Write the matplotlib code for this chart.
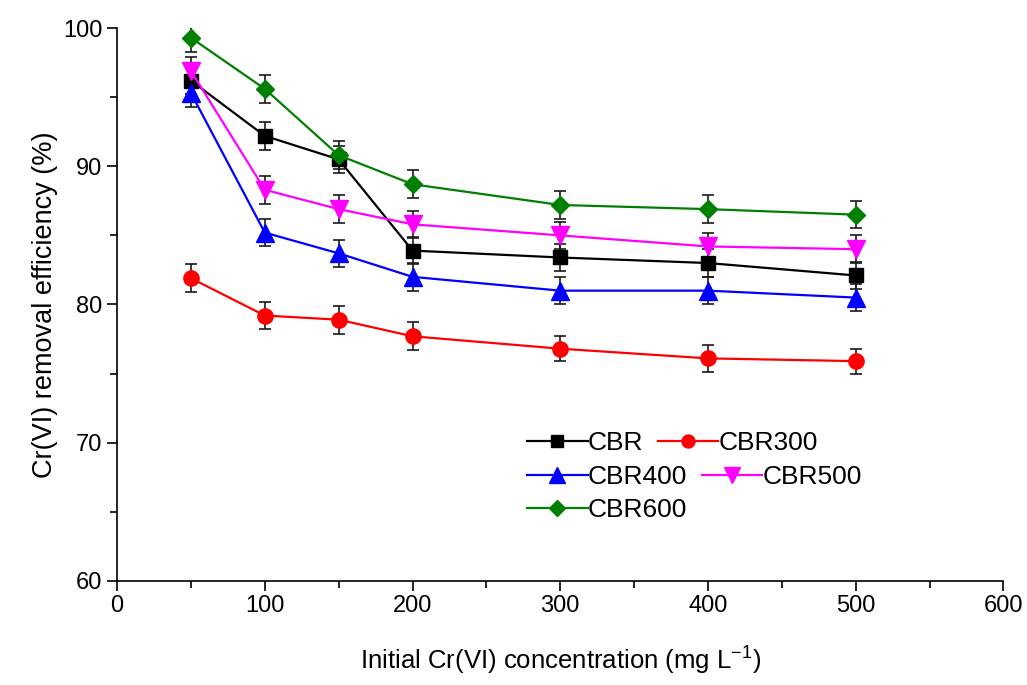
import matplotlib.pyplot as plt
from matplotlib.legend import Legend
import numpy as np

# Data
conc = [50, 100, 150, 200, 300, 400, 500]

cbr = [96.2, 92.2, 90.5, 83.9, 83.4, 83.0, 82.1]
cbr300 = [81.9, 79.2, 78.9, 77.7, 76.8, 76.1, 75.9]
cbr400 = [95.3, 85.2, 83.7, 82.0, 81.0, 81.0, 80.5]
cbr500 = [96.9, 88.3, 86.9, 85.8, 85.0, 84.2, 84.0]
cbr600 = [99.3, 95.6, 90.8, 88.7, 87.2, 86.9, 86.5]

err_cbr = [1.0, 1.0, 1.0, 1.0, 1.0, 1.0, 1.0]
err_cbr300 = [1.0, 1.0, 1.0, 1.0, 0.9, 1.0, 0.9]
err_cbr400 = [1.0, 1.0, 1.0, 1.0, 1.0, 1.0, 1.0]
err_cbr500 = [1.0, 1.0, 1.0, 1.0, 1.0, 1.0, 1.0]
err_cbr600 = [1.0, 1.0, 1.0, 1.0, 1.0, 1.0, 1.0]

series = [
    ('CBR', cbr, err_cbr, 'black', 's', 9.5),
    ('CBR300', cbr300, err_cbr300, 'red', 'o', 11),
    ('CBR400', cbr400, err_cbr400, 'blue', '^', 13),
    ('CBR500', cbr500, err_cbr500, 'magenta', 'v', 13),
    ('CBR600', cbr600, err_cbr600, 'green', 'D', 9.5),
]

plt.rcParams['font.family'] = ['Liberation Sans', 'DejaVu Sans']
plt.rcParams['mathtext.default'] = 'regular'

fig = plt.figure(figsize=(10.27, 6.85), dpi=100)
ax = fig.add_axes([0.114, 0.152, 0.863, 0.807])

handles = {}
for name, vals, errs, color, marker, ms in series:
    ax.errorbar(conc, vals, yerr=errs, fmt='none', ecolor='#1a1a1a',
                elinewidth=1.2, capsize=4.5, capthick=1.2, zorder=2)
    line, = ax.plot(conc, vals, color=color, linewidth=1.6, marker=marker,
                    markersize=ms, markerfacecolor=color, markeredgecolor=color,
                    label=name, zorder=3)
    handles[name] = line

ax.set_xlim(0, 600)
ax.set_ylim(60, 100)
ax.set_xticks(np.arange(0, 601, 100))
ax.set_xticks(np.arange(50, 600, 100), minor=True)
ax.set_yticks(np.arange(60, 101, 10))
ax.set_yticks(np.arange(65, 100, 10), minor=True)
ax.tick_params(which='major', direction='out', length=7, width=1.2, labelsize=17)
ax.tick_params(which='minor', direction='out', length=5, width=1.2)

ax.spines['top'].set_visible(False)
ax.spines['right'].set_visible(False)
ax.spines['left'].set_linewidth(1.2)
ax.spines['bottom'].set_linewidth(1.2)

ax.set_xlabel('Initial Cr(VI) concentration (mg L$^{-1}$)', fontsize=18.5, labelpad=20)
ax.set_ylabel('Cr(VI) removal efficiency (%)', fontsize=19.5, labelpad=4)

# Origin-style legend: each row laid out on its own
legend_rows = [['CBR', 'CBR300'], ['CBR400', 'CBR500'], ['CBR600']]
row_y = [443, 477, 510]
for names, yp in zip(legend_rows, row_y):
    leg = Legend(ax, [handles[k] for k in names], names, ncol=len(names),
                 frameon=False, fontsize=19, loc='center left',
                 bbox_to_anchor=(527 / 1027, 1 - yp / 685),
                 bbox_transform=fig.transFigure, borderpad=0.0,
                 borderaxespad=0.0, handlelength=2.3, handletextpad=0.0,
                 columnspacing=0.55, numpoints=1, markerscale=0.85)
    ax.add_artist(leg)

fig.savefig('out.png', dpi=100)
